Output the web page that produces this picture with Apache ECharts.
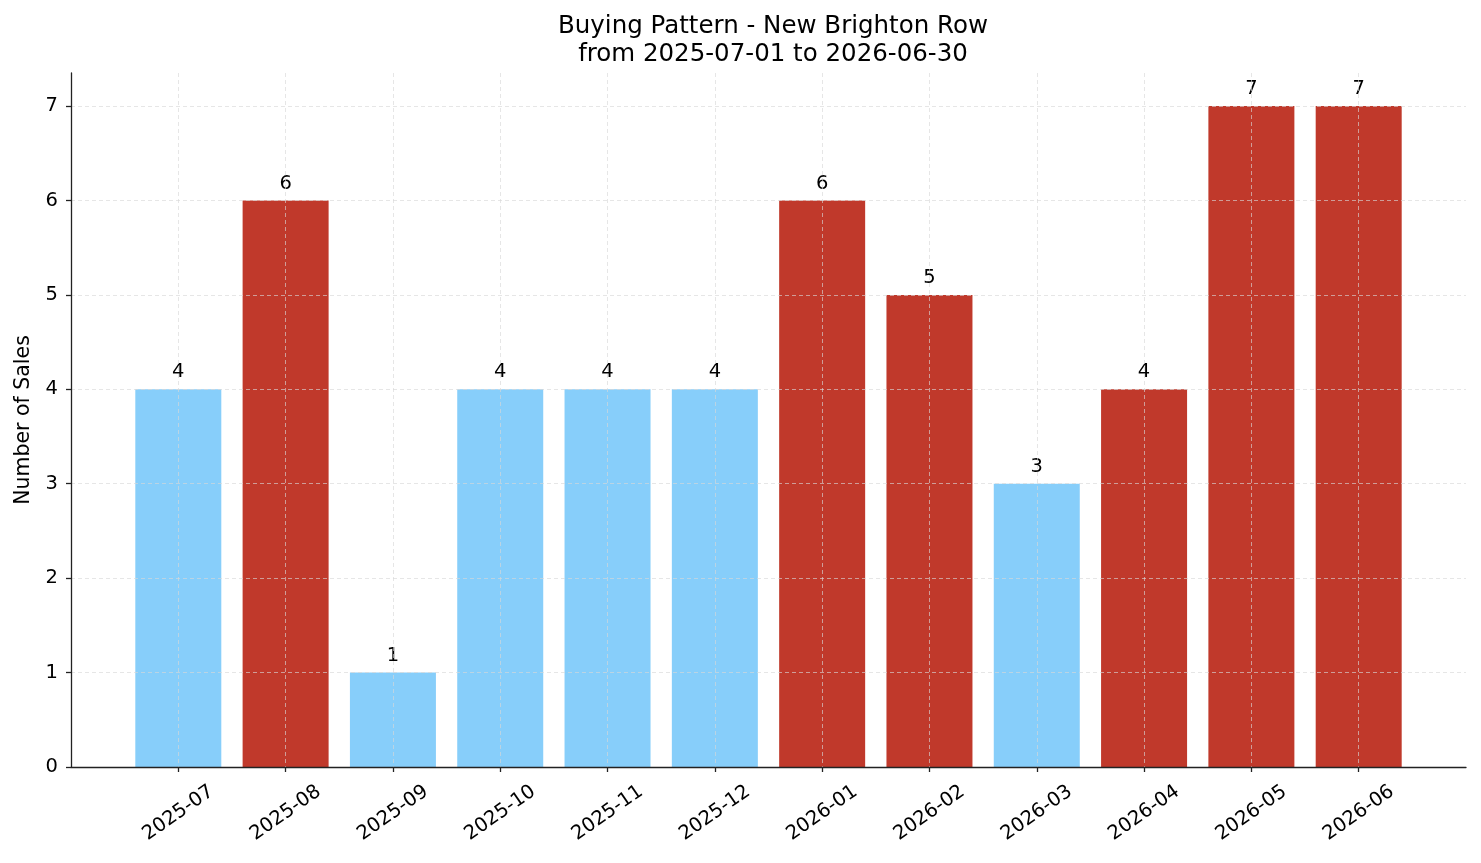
<!DOCTYPE html>
<html>
    <head>
        <meta charset="UTF-8" />
        <title>Buying Pattern - New Brighton Row</title>
        <style>
            html,
            body {
                margin: 0;
                padding: 0;
                background: #fff;
            }
            #chart {
                width: 1481px;
                height: 863px;
            }
        </style>
    </head>
    <body>
        <div id="chart"></div>
        <script src="https://cdn.jsdelivr.net/npm/echarts@6/dist/echarts.min.js"></script>
        <script>
            const months = ["2025-07", "2025-08", "2025-09", "2025-10", "2025-11", "2025-12", "2026-01", "2026-02", "2026-03", "2026-04", "2026-05", "2026-06"];
            const sales = [4, 6, 1, 4, 4, 4, 6, 5, 3, 4, 7, 7];
            // months drawn in red in the reference
            const highlighted = ["2025-08", "2026-01", "2026-02", "2026-04", "2026-05", "2026-06"];
            const yTicks = [0, 1, 2, 3, 4, 5, 6, 7];

            const BLUE = "#87CEFA";
            const RED = "#C0392B";
            const FONT = "DejaVu Sans";
            const GRID = "rgba(215,215,215,0.8)";

            // pad with an empty slot at each end so bars sit one step in from the spines
            const cats = [""].concat(months, [""]);
            const seriesData = [null].concat(
                months.map((m, i) => ({
                    value: sales[i],
                    itemStyle: { color: highlighted.includes(m) ? RED : BLUE },
                })),
                [null]
            );
            const hasLabel = (i, v) => v !== "";

            // last split line is the 7.35 top edge, hide it
            const gridColors = yTicks.map(() => GRID).concat(["transparent"]);

            const chart = echarts.init(document.getElementById("chart"), null, { renderer: "canvas" });
            chart.setOption({
                animation: false,
                textStyle: { fontFamily: FONT },
                title: {
                    text: "Buying Pattern - New Brighton Row\nfrom 2025-07-01 to 2026-06-30",
                    left: 768,
                    top: 8,
                    textAlign: "center",
                    textStyle: { fontFamily: FONT, fontSize: 24.5, fontWeight: "normal", color: "#000", lineHeight: 28 },
                },
                grid: { left: 71, right: 15, top: 73, bottom: 96, containLabel: false },
                xAxis: {
                    type: "category",
                    data: cats,
                    boundaryGap: false,
                    z: 3,
                    axisLine: { lineStyle: { color: "#222", width: 1.3 } },
                    axisTick: { interval: hasLabel, length: 5, lineStyle: { color: "#222", width: 1.3 } },
                    axisLabel: {
                        interval: hasLabel,
                        rotate: 35,
                        align: "center",
                        verticalAlign: "middle",
                        margin: 46,
                        fontSize: 19.5,
                        fontFamily: FONT,
                        color: "#000",
                    },
                    splitLine: {
                        show: true,
                        interval: hasLabel,
                        lineStyle: { color: GRID, type: [4, 3], width: 0.8 },
                    },
                },
                yAxis: {
                    type: "value",
                    min: 0,
                    max: 7.35,
                    interval: 1,
                    z: 3,
                    name: "Number of Sales",
                    nameLocation: "middle",
                    nameGap: 37,
                    nameTextStyle: { fontFamily: FONT, fontSize: 20.5, color: "#000" },
                    axisLine: { show: true, lineStyle: { color: "#222", width: 1.3 } },
                    axisTick: { show: true, length: 5, lineStyle: { color: "#222", width: 1.3 } },
                    axisLabel: {
                        showMaxLabel: false,
                        fontSize: 19.5,
                        fontFamily: FONT,
                        color: "#000",
                        margin: 13,
                    },
                    splitLine: {
                        show: true,
                        lineStyle: { color: gridColors, type: [4, 3], width: 0.8 },
                    },
                },
                series: [
                    {
                        type: "bar",
                        data: seriesData,
                        barWidth: 86,
                        z: 2,
                        label: {
                            show: true,
                            position: "top",
                            distance: 7,
                            fontSize: 19.5,
                            fontFamily: FONT,
                            color: "#000",
                        },
                    },
                ],
            });
        </script>
    </body>
</html>
